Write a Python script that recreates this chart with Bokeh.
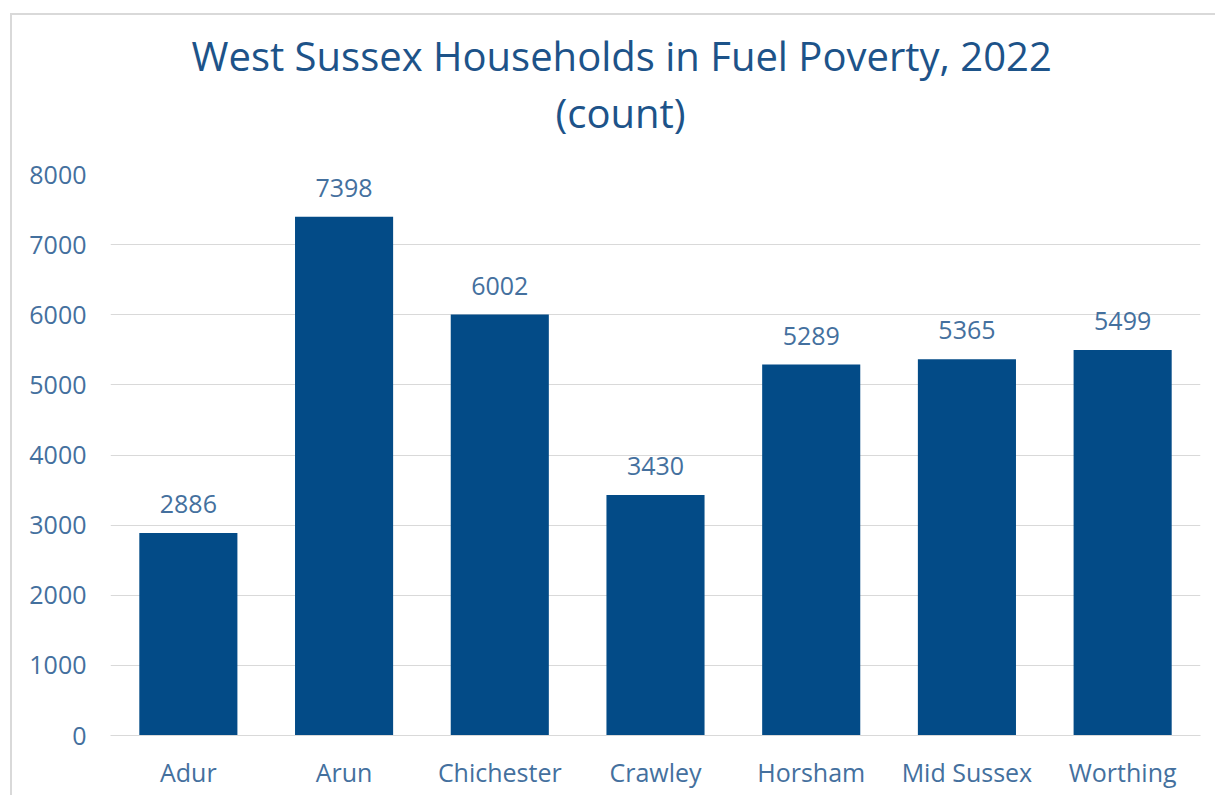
from bokeh.plotting import figure
from bokeh.models import FactorRange, Range1d, FixedTicker, ColumnDataSource, Title
from bokeh.core.properties import value
from bokeh.embed import file_html
from bokeh.resources import INLINE

categories = ["Adur", "Arun", "Chichester", "Crawley", "Horsham", "Mid Sussex", "Worthing"]
households = [2886, 7398, 6002, 3430, 5289, 5365, 5499]
y_ticks = [0, 1000, 2000, 3000, 4000, 5000, 6000, 7000, 8000]
title_lines = ["West Sussex Households in Fuel Poverty, 2022", "(count)"]

FONT = "Open Sans"
BAR = "#034B87"
TXT = "#44709E"
TITLE = "#1D5389"
GRID = "#D9D9D9"

src = ColumnDataSource(dict(cat=categories, val=households, lab=[str(v) for v in households]))

p = figure(x_range=FactorRange(*categories), y_range=Range1d(0, 8000),
           width=1205, height=782, output_backend="svg", toolbar_location=None,
           min_border_left=98, min_border_right=17, min_border_top=159, min_border_bottom=62)
p.title.visible = False
p.styles = {"border-top": "2px solid #D9D9D9", "border-left": "2px solid #D9D9D9",
            "margin-top": "13px", "margin-left": "10px"}
p.outline_line_color = None
p.background_fill_color = "white"
p.border_fill_color = "white"

# spacer between frame and titles
p.add_layout(Title(text=" ", text_font=FONT, text_font_size="10px", standoff=19), "above")
p.add_layout(Title(text=title_lines[1], align="left", offset=445, standoff=0,
                   text_font=FONT, text_font_size="40px", text_font_style="normal",
                   text_color=TITLE), "above")
p.add_layout(Title(text=title_lines[0], align="left", offset=81, standoff=0,
                   text_font=FONT, text_font_size="40px", text_font_style="normal",
                   text_color=TITLE), "above")

p.vbar(x="cat", top="val", width=0.63, source=src, fill_color=BAR, line_color=None)
p.text(x="cat", y="val", text="lab", source=src, text_align="center", text_baseline="alphabetic",
       y_offset=-29, text_font=value(FONT), text_font_size="25px", text_color=TXT)

p.xgrid.grid_line_color = None
p.ygrid.grid_line_color = GRID
p.ygrid.grid_line_width = 1

p.yaxis.ticker = FixedTicker(ticks=y_ticks)
p.yaxis.axis_line_color = None
p.yaxis.major_tick_line_color = None
p.yaxis.minor_tick_line_color = None
p.yaxis.major_label_standoff = 18
p.yaxis.major_label_text_font = FONT
p.yaxis.major_label_text_font_size = "25px"
p.yaxis.major_label_text_color = TXT

p.xaxis.axis_line_color = GRID
p.xaxis.axis_line_width = 1
p.xaxis.major_tick_line_color = None
p.xaxis.minor_tick_line_color = None
p.xaxis.major_label_standoff = 13
p.xaxis.major_label_text_font = FONT
p.xaxis.major_label_text_font_size = "25px"
p.xaxis.major_label_text_color = TXT

open("out.html", "w").write(file_html(p, INLINE))
